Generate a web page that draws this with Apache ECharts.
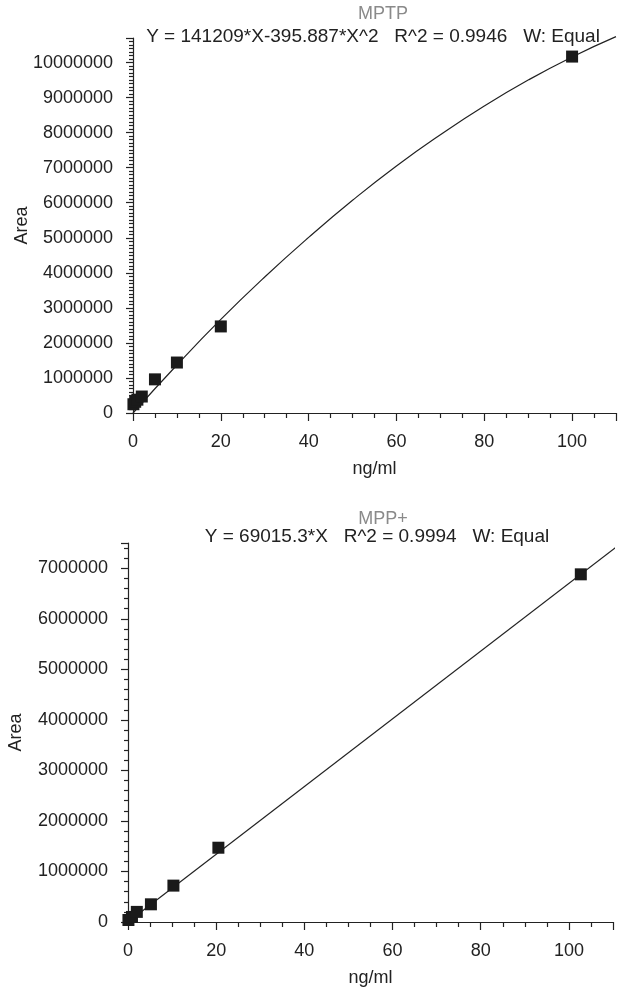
<!DOCTYPE html>
<html><head><meta charset="utf-8">
<script src="https://cdn.jsdelivr.net/npm/echarts@6/dist/echarts.min.js"></script>
<style>html,body{margin:0;padding:0;background:#fff}#c{width:634px;height:989px}</style>
</head><body><div id="c"></div>
<script>
// MPTP (top panel)
const mptpConc = [0.1, 0.5, 1, 2, 5, 10, 20, 100];
const mptpArea = [250000, 320000, 380000, 470000, 960000, 1440000, 2470000, 10170000];
const mptpCurveX = [0, 10, 20, 30, 40, 50, 60, 70, 80, 90, 100, 110];
const mptpCurveY = [0, 1370000, 2670000, 3880000, 5010000, 6070000, 7050000, 7940000, 8760000, 9500000, 10160000, 10740000];
// MPP+ (bottom panel)
const mppConc = [0.1, 0.9, 2, 5.2, 10.3, 20.5, 102.7];
const mppArea = [40000, 100000, 200000, 350000, 720000, 1470000, 6880000];
const mppLineX = [0, 114.8];
const mppLineY = [0, 7690000];
const xTickLabels = [0, 20, 40, 60, 80, 100];
const mptpTitle = 'MPTP';
const mptpEq = 'Y = 141209*X-395.887*X^2   R^2 = 0.9946   W: Equal';
const mppTitle = 'MPP+';
const mppEq = 'Y = 69015.3*X   R^2 = 0.9994   W: Equal';
const xName = 'ng/ml';
const yName = 'Area';

const FONT = 'Liberation Sans, Arial, sans-serif';
const zip = (a, b) => a.map((v, i) => [v, b[i]]);
const chart = echarts.init(document.getElementById('c'));

function xAxis(gi) {
  return {
    gridIndex: gi, type: 'value', min: 0, max: 110, interval: 20,
    name: xName, nameLocation: 'middle', nameGap: 47, nameMoveOverlap: false,
    nameTextStyle: { fontFamily: FONT, fontSize: 18, color: '#222' },
    axisLine: { onZero: false, lineStyle: { color: '#222', width: 1.2 } },
    axisTick: { show: true, inside: false, length: 8, lineStyle: { color: '#222', width: 1.2 } },
    minorTick: { show: true, splitNumber: 4, length: 5, lineStyle: { color: '#222', width: 1.2 } },
    axisLabel: { fontFamily: FONT, fontSize: 18, color: '#222', margin: 20,
      customValues: xTickLabels, formatter: v => String(v) },
    splitLine: { show: false }, minorSplitLine: { show: false }
  };
}
function yAxis(gi, max, minorSplit, gap) {
  return {
    gridIndex: gi, type: 'value', min: 0, max: max, interval: 1000000,
    name: yName, nameLocation: 'middle', nameGap: gap, nameRotate: 90, nameMoveOverlap: false,
    nameTextStyle: { fontFamily: FONT, fontSize: 18, color: '#222' },
    axisLine: { onZero: false, lineStyle: { color: '#222', width: 1.2 } },
    axisTick: { show: true, inside: false, length: 7, lineStyle: { color: '#222', width: 1.2 } },
    minorTick: { show: true, splitNumber: minorSplit, length: 4, lineStyle: { color: '#222', width: 1.2 } },
    axisLabel: { fontFamily: FONT, fontSize: 18, color: '#222', margin: 20,
      showMaxLabel: false, formatter: v => String(v) },
    splitLine: { show: false }, minorSplitLine: { show: false }
  };
}

chart.setOption({
  animation: false,
  backgroundColor: '#fff',
  grid: [
    { left: 133, top: 38, width: 483, height: 375, containLabel: false, outerBoundsMode: 'none' },
    { left: 128, top: 543, width: 485, height: 379, containLabel: false, outerBoundsMode: 'none' }
  ],
  xAxis: [xAxis(0), xAxis(1)],
  yAxis: [yAxis(0, 10700000, 10, 102), yAxis(1, 7500000, 5, 103)],
  graphic: [
    { type: 'text', x: 383, y: 14, style: { text: mptpTitle, font: '18px ' + FONT, fill: '#8a8a8a', align: 'center', verticalAlign: 'middle' } },
    { type: 'text', x: 373, y: 37, style: { text: mptpEq, font: '19px ' + FONT, fill: '#222', align: 'center', verticalAlign: 'middle' } },
    { type: 'text', x: 383, y: 519, style: { text: mppTitle, font: '18px ' + FONT, fill: '#8a8a8a', align: 'center', verticalAlign: 'middle' } },
    { type: 'text', x: 377, y: 537, style: { text: mppEq, font: '19px ' + FONT, fill: '#222', align: 'center', verticalAlign: 'middle' } }
  ],
  series: [
    { type: 'line', xAxisIndex: 0, yAxisIndex: 0, data: zip(mptpCurveX, mptpCurveY), smooth: true,
      showSymbol: false, clip: false, lineStyle: { color: '#222', width: 1.2 }, z: 2 },
    { type: 'scatter', xAxisIndex: 0, yAxisIndex: 0, data: zip(mptpConc, mptpArea), symbol: 'rect',
      symbolSize: 12, itemStyle: { color: '#1a1a1a', opacity: 1 }, z: 3 },
    { type: 'line', xAxisIndex: 1, yAxisIndex: 1, data: zip(mppLineX, mppLineY),
      showSymbol: false, clip: false, lineStyle: { color: '#222', width: 1.2 }, z: 2 },
    { type: 'scatter', xAxisIndex: 1, yAxisIndex: 1, data: zip(mppConc, mppArea), symbol: 'rect',
      symbolSize: 12, itemStyle: { color: '#1a1a1a', opacity: 1 }, z: 3 }
  ]
});
</script></body></html>
